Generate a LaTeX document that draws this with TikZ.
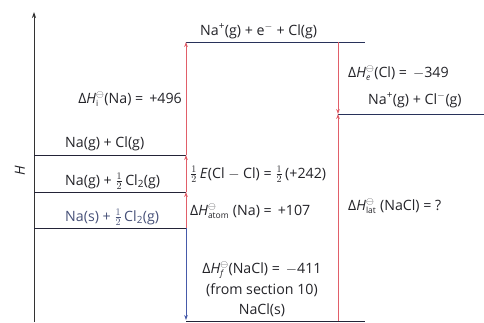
\documentclass[tikz,border=0pt]{standalone}
\usepackage{fontspec}
\usepackage{amsmath}
\setmainfont{Open Sans}
\usetikzlibrary{arrows.meta}
\definecolor{txt}{RGB}{35,35,40}
\definecolor{lev}{RGB}{35,35,55}
\definecolor{levb}{RGB}{40,50,90}
\definecolor{arrred}{RGB}{225,95,105}
\definecolor{arrblue}{RGB}{70,90,170}
\definecolor{saltxt}{RGB}{70,80,120}
\newcommand{\dH}[1]{Δ\textit{H}$^{\ominus}_{\text{\fontsize{8.5}{9}\selectfont #1}}$}
\newcommand{\halfx}{$\tfrac{1}{2}$}
\begin{document}
\begin{tikzpicture}[x=1pt,y=-1pt,
  lbl/.style={inner sep=0pt, text=txt, font=\fontsize{14.2}{16}\selectfont},
  level/.style={draw=lev, line width=1pt},
  levelb/.style={draw=levb, line width=1pt},
  redarr/.style={draw=arrred, line width=0.7pt, -{Stealth[length=5pt,width=3.6pt]}},
  bluearr/.style={draw=arrblue, line width=0.7pt, -{Stealth[length=5pt,width=3.6pt]}},
  axis/.style={draw=black!80, line width=0.8pt, -{Stealth[length=6pt,width=4pt]}}]
\useasboundingbox (0,0) rectangle (484,322);
% coordinates
\coordinate (axB) at (34,322);
\coordinate (axT) at (34,12);
\coordinate (L1a) at (34,155);  \coordinate (L1b) at (186,155);
\coordinate (L2a) at (34,192);  \coordinate (L2b) at (186,192);
\coordinate (L3a) at (34,228);  \coordinate (L3b) at (186,228);
\coordinate (Ta) at (186,42);   \coordinate (Tb) at (365,42);
\coordinate (Ba) at (186,321);  \coordinate (Bb) at (365,321);
\coordinate (Ca) at (338,114);  \coordinate (Cb) at (484,114);
\coordinate (Tm) at (338,42);   \coordinate (Bm) at (338,321);
\coordinate (Bl) at (186,320);
% axis
\draw[axis] (axB) -- (axT);
\node[lbl, rotate=90, font=\fontsize{14}{15}\selectfont\itshape] (hlab) at (20,171) {H};
% levels
\draw[level] (L1a) -- (L1b);
\draw[level] (L2a) -- (L2b);
\draw[level] (L3a) -- (L3b);
\draw[levelb] (Ta) -- (Tb);
\draw[levelb] (Ca) -- (Cb);
\draw[level] (Ba) -- (Bb);
% arrows
\draw[redarr] (L3b) -- (L2b);
\draw[redarr] (L2b) -- (L1b);
\draw[redarr] (L1b) -- (Ta);
\draw[bluearr] (L3b) -- (Bl);
\draw[redarr] (Tm) -- (Ca);
\draw[redarr] (Bm) -- (Ca);
% labels
\node[lbl, anchor=base west] (ttop) at (200,35) {Na\textsuperscript{+}(g) + e\textsuperscript{$-$} + Cl(g)};
\node[lbl, anchor=base east] (tion) at (182,103) {\dH{i}(Na) = \,+496};
\node[lbl, anchor=base west] (tl1) at (65,147) {Na(g) + Cl(g)};
\node[lbl, anchor=base west] (tl2) at (65,185) {Na(g) + \halfx\,Cl\textsubscript{2}(g)};
\node[lbl, anchor=base west, text=saltxt] (tl3) at (65,221) {Na(s) + \halfx\,Cl\textsubscript{2}(g)};
\node[lbl, anchor=base west] (tbond) at (190,178) {\halfx\,\textit{E}(Cl $-$ Cl) = \halfx\,(+242)};
\node[lbl, anchor=base west] (tatom) at (190,215) {\dH{atom} (Na) = \,+107};
\node[lbl, anchor=base] (tform) at (262,273) {\dH{\textit{f}}(NaCl) = \,$-$411};
\node[lbl, anchor=base] (tsec) at (262,294) {(from section 10)};
\node[lbl, anchor=base] (tnacl) at (262,314) {NaCl(s)};
\node[lbl, anchor=base west] (tea) at (348,77) {\dH{\textit{e}}(Cl) = \,$-$349};
\node[lbl, anchor=base west] (tions) at (368,104) {Na\textsuperscript{+}(g) + Cl\textsuperscript{$-$}(g)};
\node[lbl, anchor=base west] (tlat) at (348,210) {\dH{lat} (NaCl) = ?};
\end{tikzpicture}
\end{document}
